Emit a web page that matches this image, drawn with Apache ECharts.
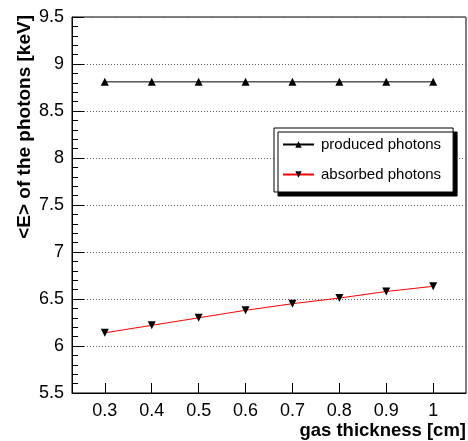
<!DOCTYPE html>
<html>
<head>
<meta charset="utf-8">
<script src="https://cdn.jsdelivr.net/npm/echarts@6/dist/echarts.min.js"></script>
<style>html,body{margin:0;padding:0;background:#fff}#c{width:468px;height:441px}</style>
</head>
<body>
<div id="c"></div>
<script>
const thickness = [0.3, 0.4, 0.5, 0.6, 0.7, 0.8, 0.9, 1.0];
const produced = [8.81, 8.81, 8.81, 8.81, 8.81, 8.81, 8.81, 8.81];
const absorbed = [6.14, 6.22, 6.30, 6.38, 6.45, 6.51, 6.58, 6.635];
const xTicks = [0.3, 0.4, 0.5, 0.6, 0.7, 0.8, 0.9, 1];
const seriesNames = ['produced photons', 'absorbed photons'];
const xTitle = 'gas thickness [cm]';
const yTitle = '<E> of the photons [keV]';

const font = 'Liberation Sans, Arial, Helvetica, sans-serif';
const chart = echarts.init(document.getElementById('c'), null, {renderer: 'canvas'});
chart.setOption({
  animation: false,
  backgroundColor: '#fff',
  grid: {left: 72, top: 17, right: 2, bottom: 48, show: true, borderColor: '#000', borderWidth: 1, backgroundColor: 'transparent'},
  legend: {
    orient: 'vertical', left: 274, top: 128,
    itemWidth: 31, itemHeight: 8, itemGap: 15,
    padding: [9, 12, 10, 8],
    backgroundColor: '#fff', borderColor: '#000', borderWidth: 1,
    shadowColor: '#000', shadowBlur: 0, shadowOffsetX: 4, shadowOffsetY: 4,
    textStyle: {fontFamily: font, fontSize: 15, lineHeight: 14, color: '#000', padding: [0, 0, 0, 2]},
    data: seriesNames
  },
  xAxis: {
    type: 'value', min: 0.23, max: 1.07,
    axisLine: {show: true, onZero: false, lineStyle: {color: '#000', width: 1}},
    axisTick: {show: true, inside: true, length: 10, customValues: xTicks, lineStyle: {color: '#000'}},
    axisLabel: {customValues: xTicks, fontFamily: font, fontSize: 18, color: '#000', margin: 9},
    splitLine: {show: false}
  },
  yAxis: {
    type: 'value', min: 5.5, max: 9.5, interval: 0.5,
    axisLine: {show: true, lineStyle: {color: '#000', width: 1}},
    axisTick: {show: true, inside: true, length: 12, lineStyle: {color: '#000'}},
    minorTick: {show: true, splitNumber: 5, length: 6, lineStyle: {color: '#000'}},
    axisLabel: {fontFamily: font, fontSize: 18, color: '#000', margin: 8},
    splitLine: {show: true, lineStyle: {color: '#666', type: [1, 2], width: 1}}
  },
  graphic: [
    {type: 'text', right: 2, top: 421, style: {text: xTitle, font: 'bold 18.5px ' + font, fill: '#000'}},
    {type: 'text', x: 15, y: 15, rotation: Math.PI / 2, style: {text: yTitle, font: 'bold 19px ' + font, fill: '#000', align: 'right', verticalAlign: 'top'}}
  ],
  series: [
    {
      name: seriesNames[0], type: 'line',
      data: thickness.map((x, i) => [x, produced[i]]),
      symbol: 'triangle', symbolSize: 8, showAllSymbol: true,
      itemStyle: {color: '#000'}, lineStyle: {color: '#000', width: 1}
    },
    {
      name: seriesNames[1], type: 'line',
      data: thickness.map((x, i) => [x, absorbed[i]]),
      symbol: 'triangle', symbolRotate: 180, symbolSize: 8, showAllSymbol: true,
      itemStyle: {color: '#000'}, lineStyle: {color: '#ff0000', width: 1}
    }
  ]
});
</script>
</body>
</html>
